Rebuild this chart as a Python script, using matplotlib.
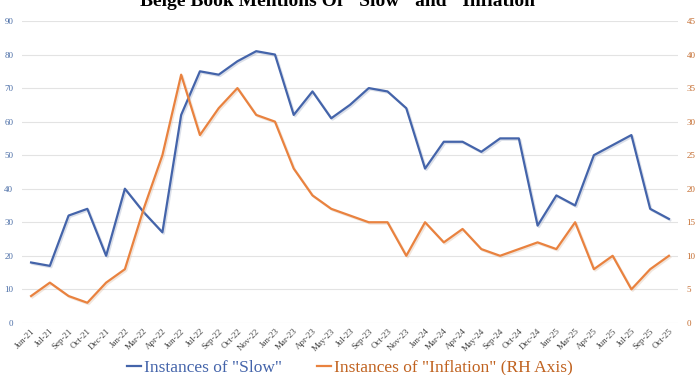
import matplotlib
matplotlib.use("Agg")
import matplotlib.pyplot as plt
import matplotlib.patheffects as pe
import numpy as np

plt.rcParams['font.family'] = ['Liberation Serif', 'DejaVu Serif']

# Beige Book release dates (category axis)
dates = ['Jun-21', 'Jul-21', 'Sep-21', 'Oct-21', 'Dec-21',
         'Jan-22', 'Mar-22', 'Apr-22', 'Jun-22', 'Jul-22', 'Sep-22', 'Oct-22', 'Nov-22',
         'Jan-23', 'Mar-23', 'Apr-23', 'May-23', 'Jul-23', 'Sep-23', 'Oct-23', 'Nov-23',
         'Jan-24', 'Mar-24', 'Apr-24', 'May-24', 'Sep-24', 'Oct-24', 'Dec-24',
         'Jan-25', 'Mar-25', 'Apr-25', 'Jun-25', 'Jul-25', 'Sep-25', 'Oct-25']

slow = [18, 17, 32, 34, 20,
        40, 33, 27, 62, 75, 74, 78, 81,
        80, 62, 69, 61, 65, 70, 69, 64,
        46, 54, 54, 51, 55, 55, 29,
        38, 35, 50, 53, 56, 34, 31]

inflation = [4, 6, 4, 3, 6,
             8, 17, 25, 37, 28, 32, 35, 31,
             30, 23, 19, 17, 16, 15, 15, 10,
             15, 12, 14, 11, 10, 11, 12,
             11, 15, 8, 10, 5, 8, 10]

blue = '#4464aa'
orange = '#e9823f'

fig = plt.figure(figsize=(7, 3.75), dpi=100)
ax = fig.add_axes([0.031, 0.139, 0.938, 0.805])
ax2 = ax.twinx()

x = np.arange(len(dates))
shadow = [pe.SimpleLineShadow(offset=(1, -1), shadow_color='#9aa6c0', alpha=0.35), pe.Normal()]
ax.plot(x, slow, color=blue, lw=1.6, path_effects=shadow, zorder=3)
ax2.plot(x, inflation, color=orange, lw=1.6,
         path_effects=[pe.SimpleLineShadow(offset=(1, -1), shadow_color='#d9b89f', alpha=0.35), pe.Normal()],
         zorder=3)

ax.set_xlim(-0.5, len(dates) - 0.5)
ax.set_ylim(0, 90)
ax2.set_ylim(0, 45)
ax.set_yticks(np.arange(0, 91, 10))
ax2.set_yticks(np.arange(0, 46, 5))

ax.grid(axis='y', color='#e3e3e3', lw=0.8)
ax.set_axisbelow(True)
for a in (ax, ax2):
    for s in a.spines.values():
        s.set_visible(False)
    a.tick_params(length=0)

ax.tick_params(axis='y', labelsize=6.5, labelcolor='#4a6da6', pad=6)
ax2.tick_params(axis='y', labelsize=6.5, labelcolor='#c36a2c', pad=6)
ax.set_xticks(x)
ax.set_xticklabels(dates, rotation=45, ha='right', rotation_mode='anchor',
                   fontsize=6.5, color='#444444')
ax.tick_params(axis='x', pad=3)

fig.text(0.49, 0.984, 'Beige Book Mentions Of "Slow" and "Inflation"',
         ha='center', va='baseline', fontsize=14, fontweight='bold')

h1 = plt.Line2D([], [], color=blue, lw=1.6)
h2 = plt.Line2D([], [], color=orange, lw=1.6)
leg = fig.legend([h1, h2], ['Instances of "Slow"', 'Instances of "Inflation" (RH Axis)'],
                 loc='center', bbox_to_anchor=(0.5, 0.02), ncol=2, frameon=False,
                 fontsize=12.5, handlelength=0.8, handletextpad=0.2, columnspacing=2.0)
leg.get_texts()[0].set_color(blue)
leg.get_texts()[1].set_color('#c0621f')

fig.savefig('out.png', dpi=100)
